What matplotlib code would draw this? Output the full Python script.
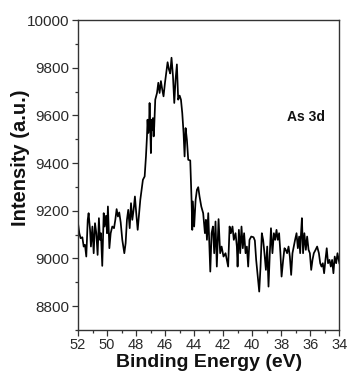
import matplotlib
matplotlib.use("Agg")
import matplotlib.pyplot as plt
from matplotlib.ticker import MultipleLocator

plt.rcParams['font.family'] = ['Liberation Sans', 'DejaVu Sans']

energy = [52.00, 51.91, 51.82, 51.70, 51.61, 51.52, 51.43, 51.33, 51.27, 51.17,
          51.11, 51.01, 50.92, 50.83, 50.74, 50.65, 50.56, 50.49, 50.42, 50.33,
          50.23, 50.17, 50.07, 50.00, 49.94, 49.84, 49.75, 49.64, 49.52, 49.43,
          49.34, 49.25, 49.16, 49.06, 48.95, 48.81, 48.72, 48.63, 48.54, 48.44,
          48.35, 48.26, 48.17, 48.08, 47.99, 47.89, 47.80, 47.71, 47.62, 47.53,
          47.41, 47.32, 47.25, 47.21, 47.16, 47.11, 47.07, 47.02, 46.98, 46.93,
          46.89, 46.84, 46.79, 46.75, 46.68, 46.56, 46.47, 46.38, 46.29, 46.20,
          46.11, 46.01, 45.92, 45.83, 45.74, 45.65, 45.56, 45.46, 45.37, 45.28,
          45.19, 45.10, 45.00, 44.91, 44.82, 44.73, 44.66, 44.59, 44.50, 44.41,
          44.27, 44.18, 44.13, 44.09, 44.00, 43.90, 43.81, 43.72, 43.63, 43.51,
          43.38, 43.26, 43.19, 43.12, 43.03, 42.89, 42.80, 42.71, 42.62, 42.53,
          42.44, 42.32, 42.21, 42.11, 41.98, 41.84, 41.66, 41.56, 41.47, 41.36,
          41.27, 41.15, 41.06, 41.01, 40.92, 40.83, 40.74, 40.65, 40.56, 40.46,
          40.37, 40.28, 40.19, 40.07, 39.91, 39.82, 39.73, 39.64, 39.52, 39.43,
          39.34, 39.25, 39.16, 39.06, 38.97, 38.88, 38.79, 38.71, 38.61, 38.51,
          38.42, 38.33, 38.24, 38.15, 38.06, 37.98, 37.87, 37.78, 37.69, 37.60,
          37.50, 37.41, 37.32, 37.23, 37.14, 37.05, 36.95, 36.86, 36.77, 36.70,
          36.64, 36.58, 36.50, 36.41, 36.31, 36.22, 36.12, 36.03, 35.94, 35.85,
          35.76, 35.64, 35.53, 35.41, 35.32, 35.23, 35.14, 35.05, 34.96, 34.87,
          34.78, 34.68, 34.59, 34.50, 34.41, 34.32, 34.22, 34.13, 34.00]

intensity = [9148, 9106, 9085, 9089, 9050, 9057, 9008, 9162, 9190, 9120,
             9050, 9134, 9022, 9148, 9106, 9015, 9169, 9078, 9106, 8969,
             9190, 9134, 9179, 9106, 9218, 9043, 9106, 9134, 9127, 9162,
             9207, 9176, 9193, 9151, 9078, 9022, 9064, 9162, 9204, 9127,
             9232, 9162, 9204, 9260, 9190, 9120, 9183, 9246, 9288, 9330,
             9344, 9428, 9512, 9582, 9526, 9554, 9652, 9526, 9442, 9582,
             9540, 9589, 9512, 9554, 9666, 9694, 9737, 9694, 9744, 9709,
             9680, 9737, 9779, 9823, 9793, 9776, 9842, 9765, 9652, 9751,
             9814, 9666, 9683, 9666, 9610, 9526, 9428, 9547, 9498, 9414,
             9411, 9246, 9120, 9239, 9134, 9246, 9288, 9299, 9260, 9218,
             9190, 9106, 9162, 9078, 9190, 8945, 9106, 9134, 9022, 9155,
             8966, 9165, 9022, 9050, 9008, 9022, 8966, 9134, 9106, 9134,
             9078, 9106, 9050, 8966, 9120, 9022, 9134, 9043, 9106, 9022,
             9050, 8966, 9078, 9092, 9089, 9075, 8994, 8938, 8861, 8966,
             9106, 9078, 9022, 8952, 9050, 8882, 9022, 9127, 9022, 9106,
             9078, 9120, 9078, 9106, 9022, 8924, 8994, 9043, 9036, 9022,
             9050, 9008, 8931, 9022, 9050, 9078, 9106, 9043, 9092, 9022,
             9106, 9169, 9022, 9106, 9036, 9092, 9036, 9022, 8952, 8994,
             9022, 9036, 9050, 9022, 8980, 8966, 8980, 8938, 8994, 9043,
             8980, 8994, 8966, 8994, 8938, 9008, 8980, 9022, 8980]

x_ticks = [52, 50, 48, 46, 44, 42, 40, 38, 36, 34]
y_ticks = [8800, 9000, 9200, 9400, 9600, 9800, 10000]
peak_label = "As 3d"

fig = plt.figure(figsize=(3.47, 3.78), dpi=100)
ax = fig.add_axes([0.2248, 0.127, 0.7532, 0.820])
ax.plot(energy, intensity, color='black', lw=1.25)

ax.set_xlim(52, 34)
ax.set_ylim(8700, 10000)
ax.set_xticks(x_ticks)
ax.set_yticks(y_ticks)
ax.xaxis.set_minor_locator(MultipleLocator(1))
ax.yaxis.set_minor_locator(MultipleLocator(100))
ax.tick_params(axis='both', which='major', length=4, width=0.9, color='#333333',
               labelcolor='#2a2a2a', direction='out')
ax.tick_params(axis='both', which='minor', length=2.5, width=0.9, color='#333333', direction='out')
ax.tick_params(axis='y', labelsize=11, pad=2)
ax.tick_params(axis='x', labelsize=10.5, pad=2)
for s in ax.spines.values():
    s.set_linewidth(1.0)
    s.set_color('#333333')

ax.set_xlabel("Binding Energy (eV)", fontsize=14, fontweight='bold', labelpad=1, color='#111111')
ax.set_ylabel("Intensity (a.u.)", fontsize=14.5, fontweight='bold', labelpad=4, color='#111111')
ax.yaxis.set_label_coords(-0.185, 0.555)
ax.text(37.6, 9594, peak_label, fontsize=10, fontweight='bold', ha='left', va='center', color='#111111')

fig.savefig("out.png", dpi=100)
